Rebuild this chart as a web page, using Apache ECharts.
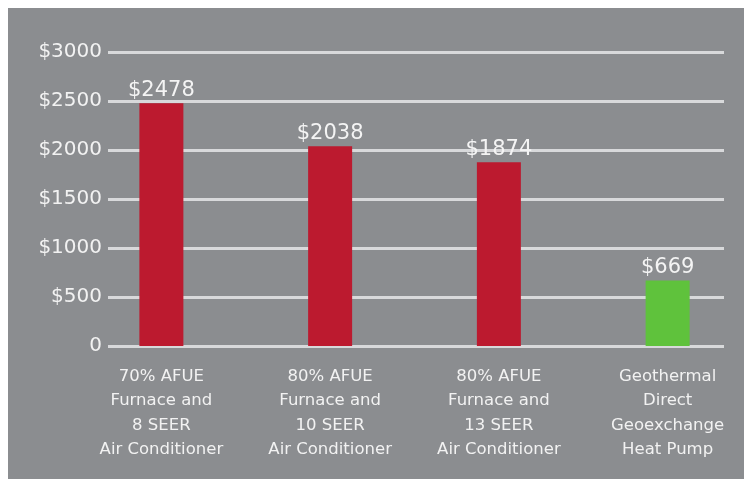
<!DOCTYPE html>
<html>
<head>
<meta charset="utf-8">
<script src="https://cdn.jsdelivr.net/npm/echarts@6/dist/echarts.min.js"></script>
<style>
  html, body { margin: 0; padding: 0; background: #ffffff; }
  #chart { position: absolute; left: 8px; top: 8px; width: 736px; height: 471px; background: #8b8d90; }
</style>
</head>
<body>
<div id="chart"></div>
<script>
var categories = [
  '70% AFUE\nFurnace and\n8 SEER\nAir Conditioner',
  '80% AFUE\nFurnace and\n10 SEER\nAir Conditioner',
  '80% AFUE\nFurnace and\n13 SEER\nAir Conditioner',
  'Geothermal\nDirect\nGeoexchange\nHeat Pump'
];
var costs = [2478, 2038, 1874, 669];
var yTicks = [0, 500, 1000, 1500, 2000, 2500, 3000];

function draw_costs() {
  var dom = document.getElementById('chart');
  var myChart = echarts.init(dom, null, { renderer: 'canvas' });
  var font = 'DejaVu Sans';

  var option = {
    animation: false,
    grid: [
      { left: 100, right: 20, top: 44, bottom: 133, outerBoundsMode: 'none' },
      { left: 69, width: 675, top: 44, bottom: 133, outerBoundsMode: 'none' }
    ],
    xAxis: [
      { gridIndex: 0, type: 'category', data: categories, show: false },
      {
        gridIndex: 1,
        type: 'category',
        data: categories,
        axisLine: { show: false },
        axisTick: { show: false },
        axisLabel: {
          color: '#f2f2f2',
          fontFamily: font,
          fontSize: 16.5,
          lineHeight: 24.5,
          margin: 18,
          interval: 0
        }
      }
    ],
    yAxis: [
      {
        gridIndex: 0,
        type: 'value',
        min: yTicks[0],
        max: yTicks[yTicks.length - 1],
        interval: 500,
        axisLine: { show: false },
        axisTick: { show: false },
        axisLabel: {
          color: '#f2f2f2',
          fontFamily: font,
          fontSize: 20,
          margin: 6,
          formatter: function (v) { return v === 0 ? '0' : '$' + v; }
        },
        splitLine: { lineStyle: { color: '#d8d9db', width: 3 } }
      },
      {
        gridIndex: 1,
        type: 'value',
        min: yTicks[0],
        max: yTicks[yTicks.length - 1],
        show: false,
        splitLine: { show: false }
      }
    ],
    series: [
      {
        type: 'bar',
        xAxisIndex: 1,
        yAxisIndex: 1,
        data: costs,
        barWidth: 44,
        itemStyle: {
          color: function (p) { return p.dataIndex === 3 ? '#5fc23c' : '#bc1a2f'; }
        },
        label: {
          show: true,
          position: 'top',
          distance: 2,
          color: '#f4f4f4',
          fontFamily: font,
          fontSize: 21,
          formatter: function (p) { return '$' + p.value; }
        }
      }
    ]
  };

  myChart.setOption(option);
  window.onresize = myChart.resize;
}
draw_costs();
</script>
</body>
</html>
